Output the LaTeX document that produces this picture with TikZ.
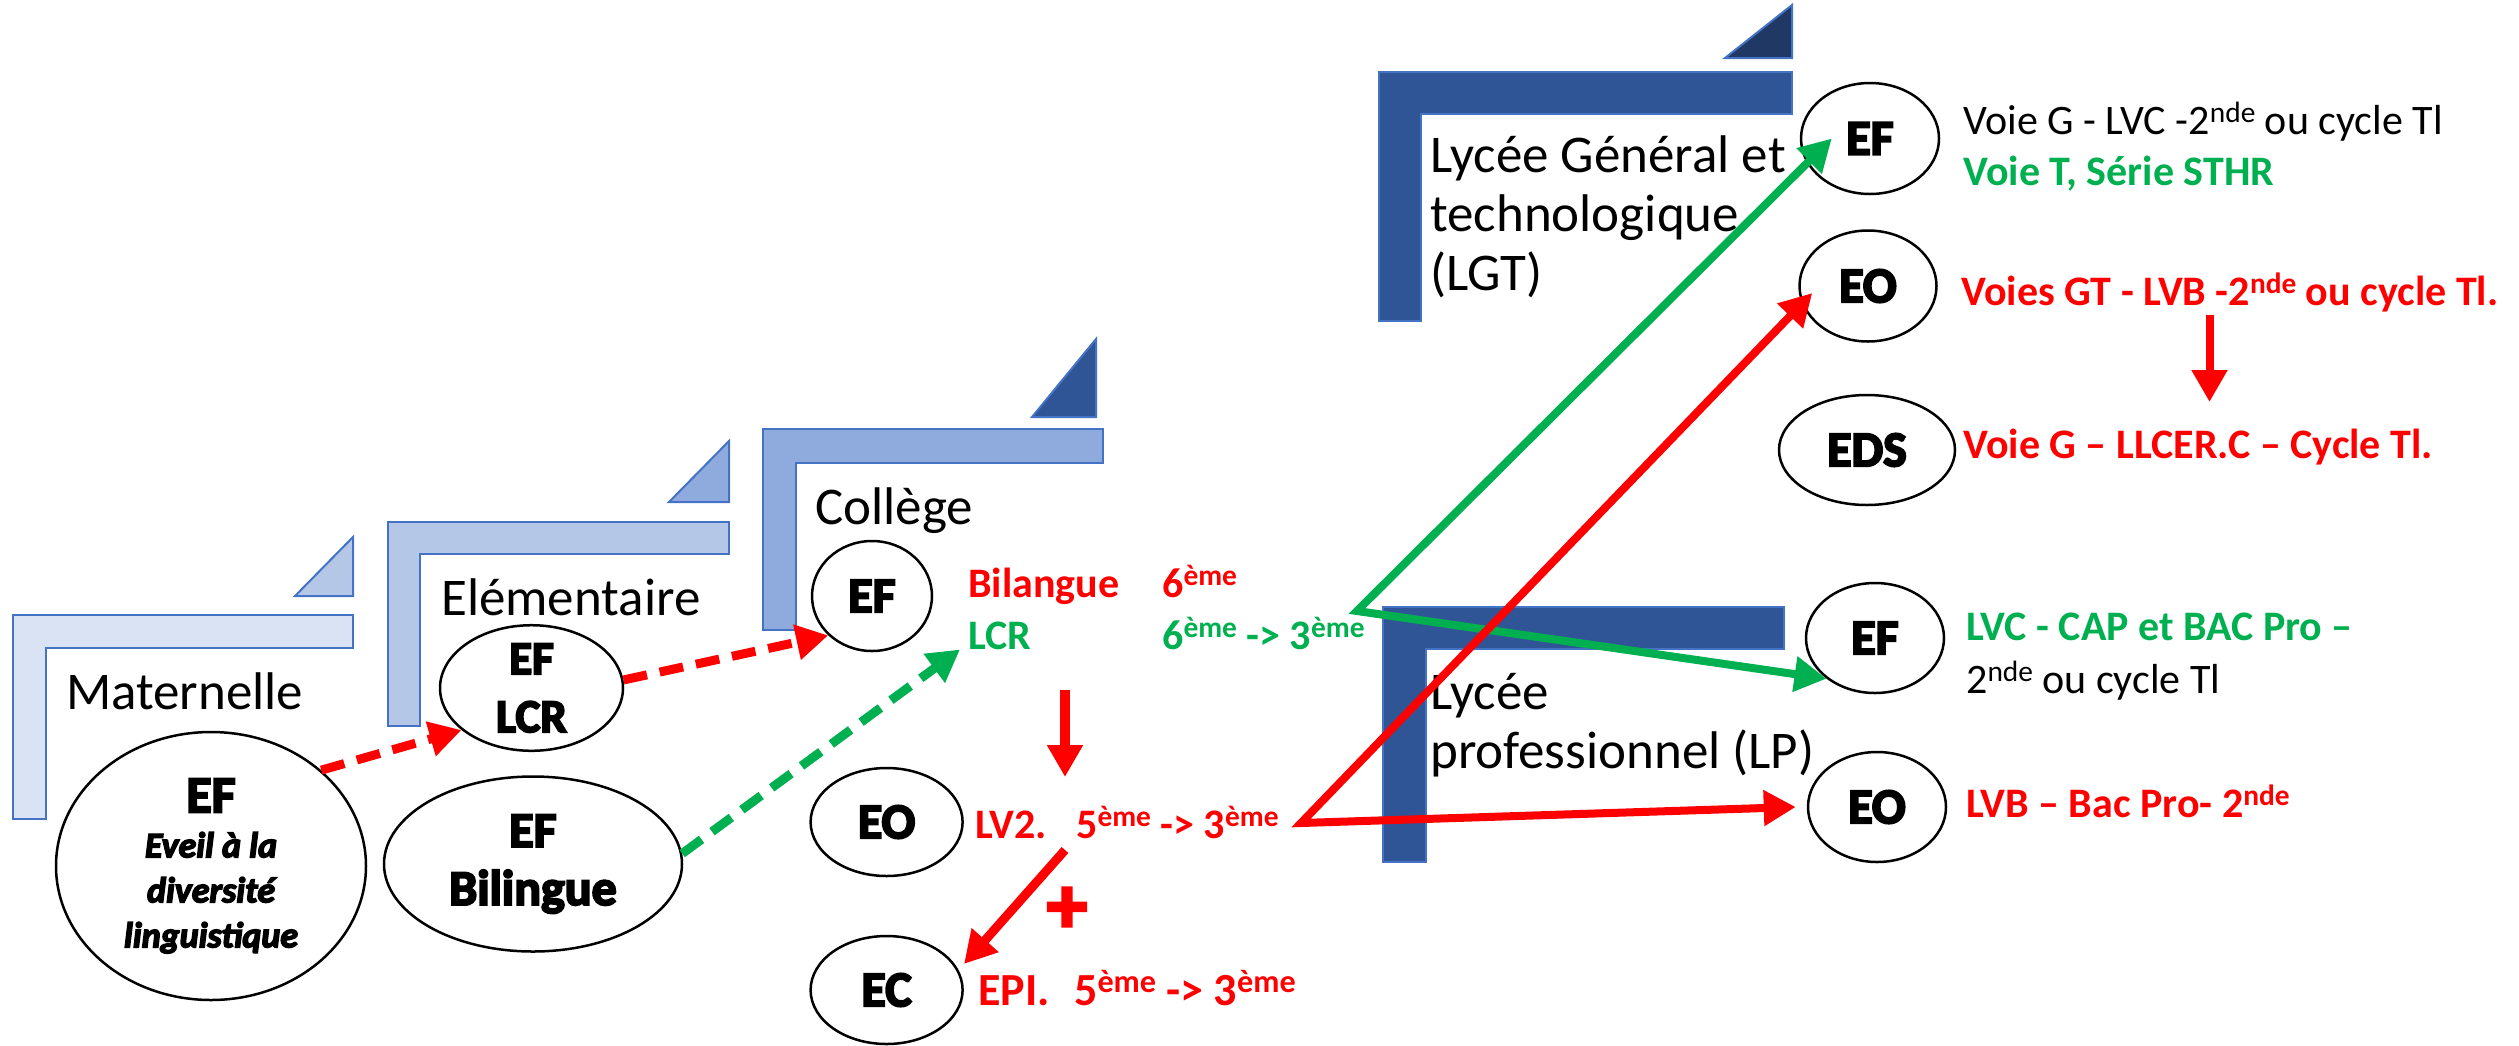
\documentclass[tikz,border=0pt]{standalone}
\usepackage{fontspec}
\setmainfont{Carlito}
\newfontfamily\heavy{Carlito}[BoldFeatures={FakeBold=4},BoldItalicFeatures={FakeBold=4}]
\usetikzlibrary{arrows.meta,calc,shapes.geometric}
\definecolor{bd}{HTML}{4472C4}
\definecolor{ca}{HTML}{DAE3F3}
\definecolor{cb}{HTML}{B4C7E7}
\definecolor{cc}{HTML}{8FAADC}
\definecolor{cd}{HTML}{2F5597}
\definecolor{ce}{HTML}{203864}
\definecolor{rd}{HTML}{FF0000}
\definecolor{gn}{HTML}{00B050}
\newcommand{\itl}{\fontsize{36}{45}\selectfont\itshape}
\newcommand{\ex}[1]{\raisebox{0.27em}{\scalebox{0.7}{#1}}}
\tikzset{
  frame/.style={draw=bd, line width=2pt, line join=miter},
  oval/.style={ellipse, draw=black, line width=2.5pt, fill=white, inner sep=0pt,
    font=\heavy\bfseries\fontsize{50}{58}\selectfont, align=center},
  lab/.style={anchor=base west, inner sep=0pt, font=\fontsize{53}{59}\selectfont, align=left},
  rtxt/.style={anchor=base west, inner sep=0pt, font=\bfseries\fontsize{42}{50}\selectfont},
  ntxt/.style={anchor=base west, inner sep=0pt, font=\fontsize{42}{50}\selectfont},
  ctxt/.style={anchor=base west, inner sep=0pt, font=\bfseries\fontsize{42}{50}\selectfont},
  arr/.style={line width=8pt, -{Triangle[length=32pt,width=34pt]}},
  barr/.style={line width=8pt, line join=miter, {Triangle[length=32pt,width=34pt]}-{Triangle[length=32pt,width=34pt]}},
  darr/.style={line width=9pt, dash pattern=on 24pt off 13pt, -{Triangle[length=32pt,width=34pt]}}
}
\begin{document}
\begin{tikzpicture}[x=1pt,y=-1pt]
\useasboundingbox (0,0) rectangle (2519,1045);
% stage frames
\filldraw[frame, fill=ca] (12.5,615) -- (353,615) -- (353,648) -- (46,648) -- (46,819) -- (12.5,819) -- cycle;
\filldraw[frame, fill=cb] (295,596) -- (353,596) -- (353,537) -- cycle;
\filldraw[frame, fill=cb] (388,522) -- (729,522) -- (729,554) -- (420,554) -- (420,726) -- (388,726) -- cycle;
\filldraw[frame, fill=cc] (669,502) -- (729,502) -- (729,441) -- cycle;
\filldraw[frame, fill=cc] (762.5,429) -- (1103,429) -- (1103,463) -- (795.5,463) -- (795.5,630) -- (762.5,630) -- cycle;
\filldraw[frame, fill=cd] (1032,417) -- (1096,417) -- (1096,339) -- cycle;
\filldraw[frame, fill=cd] (1379,72) -- (1792,72) -- (1792,114) -- (1421,114) -- (1421,321) -- (1379,321) -- cycle;
\filldraw[frame, fill=ce] (1725,58) -- (1792,58) -- (1792,5) -- cycle;
\filldraw[frame, fill=cd] (1383,607) -- (1784,607) -- (1784,649) -- (1426,649) -- (1426,862) -- (1383,862) -- cycle;
% stage labels
\node[lab] (tmat) at (66,709) {Maternelle};
\node[lab] (telem) at (441,615) {Elémentaire};
\node[lab] (tcol) at (815,524) {Collège};
\node[lab] (tlgt) at (1430,290) {Lycée Général et\\technologique\\(LGT)};
\node[lab] (tlp) at (1430,768) {Lycée\\professionnel (LP)};
% ellipses
\node[oval, minimum width=310pt, minimum height=268pt, font=\heavy\bfseries\fontsize{52}{45}\selectfont] (mat) at (211,866)
  {EF\\\itl Eveil à la\\\itl diversité\\\itl linguistique};
\node[oval, minimum width=183pt, minimum height=110pt, font=\heavy\bfseries\fontsize{47}{58}\selectfont] (lcr) at (531.5,688) {EF\\LCR};
\node[oval, minimum width=298pt, minimum height=175pt] (bil) at (533,864) {EF\\Bilingue};
\node[oval, minimum width=120pt, minimum height=110pt] (cef) at (872,596) {EF};
\node[oval, minimum width=152pt, minimum height=108pt] (ceo) at (886.6,822) {EO};
\node[oval, minimum width=152pt, minimum height=108pt] (cec) at (886.6,990) {EC};
\node[oval, minimum width=138pt, minimum height=111pt] (gef) at (1870,138.5) {EF};
\node[oval, minimum width=137pt, minimum height=111pt] (geo) at (1868,286) {EO};
\node[oval, minimum width=176pt, minimum height=110pt] (eds) at (1867,450) {EDS};
\node[oval, minimum width=138pt, minimum height=110pt] (pef) at (1875,638) {EF};
\node[oval, minimum width=138pt, minimum height=110pt] (peo) at (1877,807) {EO};
% college texts
\node[ctxt, text=rd] (tbil) at (968,597) {Bilangue};
\node[ctxt, text=rd] (tbil6) at (1162,597) {6\ex{ème}};
\node[ctxt, text=gn] (lcrg) at (968,649) {LCR};
\node[ctxt, text=gn] (lcrr) at (1162,649) {6\ex{ème} -> 3\ex{ème}};
\node[ctxt, text=rd] (tlv2) at (975,838) {LV2.};
\node[ctxt, text=rd] (tlv2r) at (1076,838) {5\ex{ème} -> 3\ex{ème}};
\node[ctxt, text=rd, font=\bfseries\fontsize{46}{50}\selectfont] (tepi) at (978,1005) {EPI.};
\node[ctxt, text=rd, font=\bfseries\fontsize{46}{50}\selectfont] (tepir) at (1074,1005) {5\ex{ème} -> 3\ex{ème}};
\node[text=rd, inner sep=0pt, font=\heavy\bfseries\fontsize{80}{80}\selectfont] (plus) at (1067,910) {+};
% right texts
\node[ntxt] (t1) at (1963,134) {Voie G - LVC -2\ex{nde} ou cycle Tl};
\node[rtxt, text=gn] (t2) at (1963,185) {Voie T, Série STHR};
\node[rtxt, text=rd] (t3) at (1961,305) {Voies GT - LVB -2\ex{nde} ou cycle Tl.};
\node[rtxt, text=rd] (t4) at (1963,458) {Voie G – LLCER.C – Cycle Tl.};
\node[rtxt, text=gn] (t5) at (1966,640) {LVC - CAP et BAC Pro –};
\node[ntxt] (t6) at (1966,693) {2\ex{nde} ou cycle Tl};
\node[rtxt, text=rd] (t7) at (1966,817) {LVB – Bac Pro- 2\ex{nde}};
% connectors
\coordinate (d1) at (1065,690); \coordinate (d2) at (1065,777);
\coordinate (d3) at (1065,850); \coordinate (d4) at (964,964);
\coordinate (gv) at (1357,611); \coordinate (rv) at (1301,823);
\coordinate (d5) at (2209.5,315); \coordinate (d6) at (2209.5,402);
\draw[darr, rd] (mat.41) -- (lcr.211);
\draw[darr, rd] (lcr.5) -- (cef.222);
\draw[darr, gn] (bil.4) -- ($(lcrg.south west)+(-8,0)$);
\draw[arr, rd, line width=10pt] (d1) -- (d2);
\draw[arr, rd, line width=9pt] (d3) -- (d4);
\draw[barr, gn] ($(gef.west)+(32,0)$) -- (gv) -- (pef.220);
\draw[barr, rd] ($(geo.west)+(14,7)$) -- (rv) -- ($(peo.west)+(-11,0)$);
\draw[arr, rd] (d5) -- (d6);
\end{tikzpicture}
\end{document}
